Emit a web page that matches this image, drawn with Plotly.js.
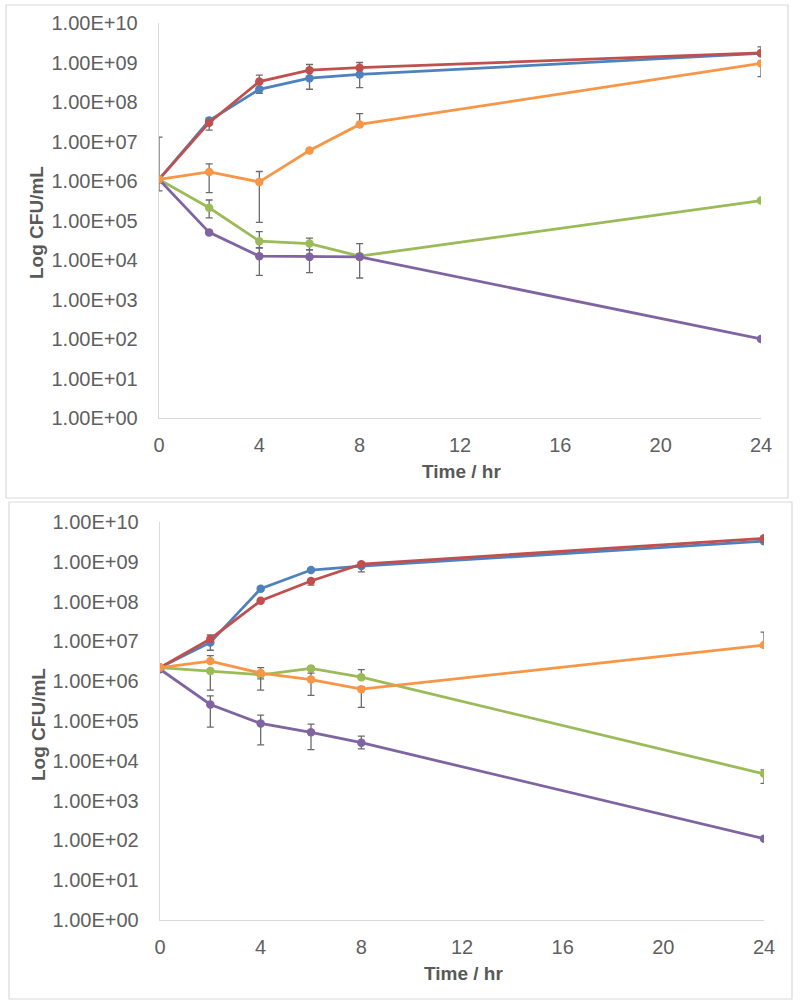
<!DOCTYPE html>
<html>
<head>
<meta charset="utf-8">
<script src="https://cdn.plot.ly/plotly-3.0.1.min.js"></script>
<style>
  html, body { margin: 0; padding: 0; background: #fff; }
  #chart { width: 800px; height: 1007px; }
</style>
</head>
<body>
<div id="chart"></div>
<script>
// time points (hours)
const hours = [0, 2, 4, 6, 8, 24];

// y tick labels, Excel style
const yTickVals = [1, 10, 100, 1e3, 1e4, 1e5, 1e6, 1e7, 1e8, 1e9, 1e10];
const yTickText = ['1.00E+00', '1.00E+01', '1.00E+02', '1.00E+03', '1.00E+04', '1.00E+05',
                   '1.00E+06', '1.00E+07', '1.00E+08', '1.00E+09', '1.00E+10'];
const xTickVals = [0, 4, 8, 12, 16, 20, 24];

// ---- top panel ----
const topBlue   = [1.1e6, 3.4e7, 2.1e8, 4.0e8, 5.0e8, 1.7e9];
const topRed    = [1.1e6, 3.0e7, 3.3e8, 6.4e8, 7.4e8, 1.75e9];
const topGreen  = [1.1e6, 2.1e5, 3.0e4, 2.6e4, 1.25e4, 3.2e5];
const topPurple = [1.1e6, 5.0e4, 1.25e4, 1.2e4, 1.2e4, 1.0e2];
const topOrange = [1.1e6, 1.7e6, 9.5e5, 5.9e6, 2.7e7, 9.5e8];

const topBlueUp     = [0, 5e6, 1e7, 2e7, 2e7, 1e8];
const topBlueDown   = [0, 1.45e7, 4.4e7, 1.9e8, 2.7e8, 1e8];
const topRedUp      = [0, 3e6, 1.5e8, 2.5e8, 2.6e8, 7.5e8];
const topRedDown    = [0, 3e6, 2e7, 5e7, 5e7, 1e8];
const topGreenUp    = [0, 1.2e5, 2.2e4, 1.0e4, 2e3, 0];
const topGreenDown  = [0, 9.3e4, 1.0e4, 8e3, 2e3, 0];
const topPurpleUp   = [0, 5e3, 8e3, 6e3, 1.4e4, 0];
const topPurpleDown = [0, 5e3, 8.4e3, 7.2e3, 8.5e3, 0];
const topOrangeUp   = [1.18e7, 1.0e6, 7.9e5, 5e5, 2.4e7, 5e7];
const topOrangeDown = [5.4e5, 1.19e6, 8.6e5, 5e5, 3e6, 5.1e8];

// ---- bottom panel ----
const botBlue   = [2.2e6, 9.4e6, 2.1e8, 6.2e8, 7.8e8, 3.3e9];
const botRed    = [2.2e6, 1.15e7, 1.05e8, 3.3e8, 8.7e8, 3.9e9];
const botGreen  = [2.2e6, 1.8e6, 1.45e6, 2.1e6, 1.26e6, 4.7e3];
const botPurple = [2.0e6, 2.6e5, 8.7e4, 5.2e4, 2.85e4, 1.1e2];
const botOrange = [2.2e6, 3.2e6, 1.6e6, 1.1e6, 6.3e5, 8.1e6];

const botBlueUp     = [1e5, 5e5, 1e7, 3e7, 5e7, 2e8];
const botBlueDown   = [2e5, 3.4e6, 1e7, 3e7, 2.2e8, 2e8];
const botRedUp      = [1e5, 3e6, 5e6, 2e7, 5e7, 3e8];
const botRedDown    = [2e5, 1e6, 5e6, 7e7, 5e7, 8e8];
const botGreenUp    = [1e5, 2e5, 2e5, 2e5, 7e5, 1.2e3];
const botGreenDown  = [2e5, 1.2e6, 3e5, 2e5, 1e5, 2.0e3];
const botPurpleUp   = [1e5, 1.7e5, 5.3e4, 3.1e4, 1.3e4, 0];
const botPurpleDown = [2e5, 1.9e5, 6.2e4, 3.3e4, 8.5e3, 0];
const botOrangeUp   = [1e5, 1.2e6, 6e5, 5e5, 1e5, 9e6];
const botOrangeDown = [2e5, 3e5, 1.0e6, 6.6e5, 4.1e5, 1e6];

const colors = {
    blue: '#4F81BD',
    red: '#C0504D',
    green: '#9BBB59',
    purple: '#8064A2',
    orange: '#F79646'
};

function series(y, up, down, color, xa, ya){
    return {
        type: 'scatter',
        mode: 'lines+markers',
        x: hours,
        y: y,
        xaxis: xa,
        yaxis: ya,
        line: { color: color, width: 2.8 },
        marker: { color: color, size: 8.5 },
        error_y: {
            type: 'data',
            symmetric: false,
            array: up,
            arrayminus: down,
            color: '#6b6b6b',
            thickness: 1.3,
            width: 3.5
        },
        showlegend: false,
        hoverinfo: 'x+y'
    };
}

let data = [
    series(topBlue, topBlueUp, topBlueDown, colors.blue, 'x', 'y'),
    series(topRed, topRedUp, topRedDown, colors.red, 'x', 'y'),
    series(topGreen, topGreenUp, topGreenDown, colors.green, 'x', 'y'),
    series(topPurple, topPurpleUp, topPurpleDown, colors.purple, 'x', 'y'),
    series(topOrange, topOrangeUp, topOrangeDown, colors.orange, 'x', 'y'),
    series(botBlue, botBlueUp, botBlueDown, colors.blue, 'x2', 'y2'),
    series(botRed, botRedUp, botRedDown, colors.red, 'x2', 'y2'),
    series(botGreen, botGreenUp, botGreenDown, colors.green, 'x2', 'y2'),
    series(botPurple, botPurpleUp, botPurpleDown, colors.purple, 'x2', 'y2'),
    series(botOrange, botOrangeUp, botOrangeDown, colors.orange, 'x2', 'y2')
];

const W = 800, H = 1007;
const tickFont = { family: 'Liberation Sans, Arial, sans-serif', size: 20, color: '#5f5f5f' };
const titleFont = { family: 'Liberation Sans, Arial, sans-serif', size: 19, color: '#595959', weight: 'bold' };

function xAxis(x0, x1, anchor){
    return {
        domain: [x0 / W, x1 / W],
        anchor: anchor,
        range: [0, 24],
        tickvals: xTickVals,
        ticktext: xTickVals.map(String),
        tickfont: tickFont,
        ticks: '',
        ticklabelstandoff: 9,
        showgrid: false,
        zeroline: false,
        showline: true,
        linecolor: '#d9d9d9',
        linewidth: 1.3,
        fixedrange: true
    };
}

function yAxis(yTop, yBot, anchor){
    return {
        domain: [1 - yBot / H, 1 - yTop / H],
        anchor: anchor,
        type: 'log',
        range: [0, 10],
        tickvals: yTickVals,
        ticktext: yTickText,
        tickfont: tickFont,
        ticks: '',
        ticklabelstandoff: 16,
        showgrid: false,
        zeroline: false,
        showline: true,
        linecolor: '#d9d9d9',
        linewidth: 1.3,
        fixedrange: true
    };
}

function box(x0, y0, x1, y1){
    return {
        type: 'rect', xref: 'paper', yref: 'paper',
        x0: x0 / W, x1: x1 / W, y0: 1 - y1 / H, y1: 1 - y0 / H,
        line: { color: '#d9d9d9', width: 1.2 },
        layer: 'below'
    };
}

function label(text, px, py, angle){
    return {
        text: text, xref: 'paper', yref: 'paper',
        x: px / W, y: 1 - py / H,
        xanchor: 'center', yanchor: 'middle',
        showarrow: false, textangle: angle,
        font: titleFont
    };
}

let layout = {
    width: W,
    height: H,
    margin: { l: 0, r: 0, t: 0, b: 0 },
    paper_bgcolor: '#ffffff',
    plot_bgcolor: 'rgba(0,0,0,0)',
    xaxis: xAxis(159, 761, 'y'),
    yaxis: yAxis(23, 418, 'x'),
    xaxis2: xAxis(160, 764, 'y2'),
    yaxis2: yAxis(522, 920, 'x2'),
    shapes: [
        box(6, 5, 788, 498),
        box(9, 502, 792, 999)
    ],
    annotations: [
        label('Time / hr', 461, 471, 0),
        label('Log CFU/mL', 36, 223, -90),
        label('Time / hr', 463, 973, 0),
        label('Log CFU/mL', 38, 725, -90)
    ]
};

Plotly.newPlot('chart', data, layout, { staticPlot: true });
</script>
</body>
</html>
